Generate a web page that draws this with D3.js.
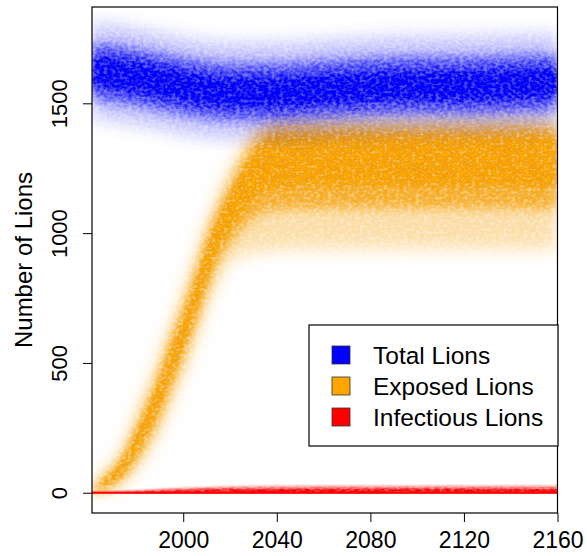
<!DOCTYPE html>
<html>
<head>
<meta charset="utf-8">
<style>
  body { margin: 0; background: #fff; }
  text { font-family: Arial, "Liberation Sans", sans-serif; fill: #000; }
</style>
<script src="https://d3js.org/d3.v7.min.js"></script>
</head>
<body>
<script>
// ---- data (quantile bands of the simulation runs) ----
var totalYears = [1961, 1980, 2000, 2020, 2040, 2060, 2080, 2100, 2120, 2140, 2160];
var totalQ01 = [1445, 1420, 1385, 1365, 1365, 1375, 1385, 1390, 1390, 1395, 1405];
var totalQ10 = [1520, 1495, 1460, 1440, 1440, 1450, 1460, 1465, 1465, 1470, 1480];
var totalQ25 = [1570, 1545, 1510, 1490, 1490, 1500, 1510, 1515, 1515, 1520, 1530];
var totalQ75 = [1680, 1655, 1620, 1595, 1595, 1605, 1615, 1620, 1620, 1625, 1635];
var totalQ90 = [1730, 1705, 1670, 1650, 1650, 1660, 1670, 1675, 1675, 1680, 1685];
var totalQ99 = [1810, 1785, 1750, 1730, 1730, 1740, 1750, 1755, 1755, 1760, 1765];

var exposedYears = [1961, 1965, 1970, 1975, 1980, 1985, 1990, 1995, 2000, 2005, 2010, 2015,
                    2020, 2025, 2030, 2035, 2040, 2060, 2080, 2100, 2120, 2140, 2160];
var exposedQ01 = [0, 5, 15, 45, 95, 160, 240, 350, 460, 585, 715, 825, 890, 915, 925, 930, 935, 940, 940, 940, 940, 940, 940];
var exposedQ10 = [0, 12, 30, 65, 125, 200, 290, 405, 515, 640, 775, 890, 960, 1015, 1055, 1080, 1090, 1095, 1095, 1095, 1095, 1095, 1090];
var exposedQ25 = [0, 20, 42, 85, 155, 240, 335, 455, 565, 690, 825, 945, 1025, 1090, 1140, 1170, 1180, 1185, 1185, 1185, 1185, 1185, 1180];
var exposedQ75 = [2, 40, 78, 135, 225, 320, 425, 555, 665, 795, 935, 1055, 1145, 1230, 1300, 1345, 1370, 1375, 1375, 1375, 1375, 1375, 1370];
var exposedQ90 = [4, 50, 92, 155, 255, 360, 470, 600, 715, 845, 985, 1100, 1190, 1280, 1350, 1390, 1410, 1415, 1415, 1415, 1415, 1415, 1410];
var exposedQ99 = [8, 65, 115, 185, 295, 405, 520, 650, 765, 895, 1030, 1140, 1235, 1325, 1400, 1440, 1455, 1460, 1460, 1460, 1460, 1460, 1455];

var infectYears = [1961, 1980, 2000, 2020, 2040, 2080, 2120, 2160];
var infectQ01 = [0, 0, 0, 0, 0, 0, 0, 0];
var infectQ10 = [0, 0, 0, 0, 0, 0, 0, 0];
var infectQ25 = [0, 0, 0, 1, 1, 1, 1, 1];
var infectQ75 = [1, 3, 7, 10, 11, 11, 11, 11];
var infectQ90 = [2, 5, 11, 15, 16, 16, 16, 16];
var infectQ99 = [4, 9, 19, 25, 27, 28, 28, 28];

var xTicks = [2000, 2040, 2080, 2120, 2160];
var yTicks = [0, 500, 1000, 1500];
var legendNames = ["Total Lions", "Exposed Lions", "Infectious Lions"];
var legendColors = ["#0000FF", "#FFA500", "#FF0000"];

// ---- layout ----
var W = 587, H = 556;
var plot = {left: 92, right: 557.5, top: 7, bottom: 513};

var svg = d3.select("body").append("svg")
    .attr("width", W)
    .attr("height", H);

var x = d3.scaleLinear().domain([1961, 2160]).range([plot.left, plot.right]);
var y = d3.scaleLinear().domain([-78, 1871]).range([plot.bottom, plot.top]);

var defs = svg.append("defs");
defs.append("clipPath").attr("id", "plotclip")
  .append("rect")
    .attr("x", plot.left).attr("y", plot.top)
    .attr("width", plot.right - plot.left).attr("height", plot.bottom - plot.top);

// blur per layer, so the nested bands melt into a smooth density
function blurFilter(id, sd) {
  defs.append("filter").attr("id", id)
      .attr("x", "-10%").attr("y", "-20%").attr("width", "120%").attr("height", "140%")
    .append("feGaussianBlur").attr("stdDeviation", sd);
}
blurFilter("blurOuter", 9);
blurFilter("blurMid", 6);
blurFilter("blurCore", 3.5);
blurFilter("blurThin", 1.2);

// mottled grain of many overlaid semi-transparent runs
function grainFilter(id, freq, seed) {
  var f = defs.append("filter").attr("id", id)
      .attr("x", "-5%").attr("y", "-10%").attr("width", "110%").attr("height", "120%");
  f.append("feTurbulence").attr("type", "fractalNoise").attr("baseFrequency", freq)
    .attr("numOctaves", 2).attr("seed", seed).attr("result", "n");
  f.append("feColorMatrix").attr("in", "n").attr("type", "matrix")
    .attr("values", "0 0 0 2.2 -0.6  0 0 0 2.2 -0.6  0 0 0 2.2 -0.6  0 0 0 2.2 -0.6")
    .attr("result", "g");
  f.append("feComposite").attr("in", "SourceGraphic").attr("in2", "g").attr("operator", "arithmetic")
    .attr("k1", 0.5).attr("k2", 0.72).attr("k3", 0).attr("k4", 0);
}
grainFilter("grainA", "0.25 0.35", 4);
grainFilter("grainB", "0.25 0.35", 9);
grainFilter("grainC", "0.2 0.6", 2);

function band(years, lo, hi) {
  return d3.area()
    .x(function(d, i) { return x(years[i]); })
    .y0(function(d, i) { return y(lo[i]); })
    .y1(function(d, i) { return y(hi[i]); })
    .curve(d3.curveMonotoneX)(years);
}

function drawSeries(g, years, q, color, ops, blurs, grainId) {
  var s = g.append("g").attr("filter", "url(#" + grainId + ")");
  s.append("path").attr("d", band(years, q[0], q[5])).attr("fill", color)
    .attr("fill-opacity", ops[0]).attr("filter", "url(#" + blurs[0] + ")");
  s.append("path").attr("d", band(years, q[1], q[4])).attr("fill", color)
    .attr("fill-opacity", ops[1]).attr("filter", "url(#" + blurs[1] + ")");
  s.append("path").attr("d", band(years, q[2], q[3])).attr("fill", color)
    .attr("fill-opacity", ops[2]).attr("filter", "url(#" + blurs[2] + ")");
}

var clouds = svg.append("g").attr("clip-path", "url(#plotclip)");

drawSeries(clouds, exposedYears,
  [exposedQ01, exposedQ10, exposedQ25, exposedQ75, exposedQ90, exposedQ99],
  "#FFA500", [0.32, 0.68, 0.93], ["blurOuter", "blurMid", "blurCore"], "grainA");
drawSeries(clouds, totalYears,
  [totalQ01, totalQ10, totalQ25, totalQ75, totalQ90, totalQ99],
  "#0000FF", [0.24, 0.64, 0.93], ["blurOuter", "blurMid", "blurCore"], "grainB");
drawSeries(clouds, infectYears,
  [infectQ01, infectQ10, infectQ25, infectQ75, infectQ90, infectQ99],
  "#FF0000", [0.4, 0.8, 0.97], ["blurThin", "blurThin", "blurThin"], "grainC");

clouds.append("path")
    .attr("d", d3.line().x(function(d) { return x(d); }).y(y(0))(infectYears))
    .attr("stroke", "#FF0000").attr("stroke-width", 2).attr("fill", "none");

// ---- axes ----
var xAxis = svg.append("g")
    .attr("transform", "translate(0," + plot.bottom + ")")
    .call(d3.axisBottom(x).tickValues(xTicks).tickSize(9).tickFormat(d3.format("d")));
xAxis.select(".domain").remove();
xAxis.selectAll("line").attr("stroke", "#000");
xAxis.selectAll("text")
    .attr("y", 35).attr("dy", null)
    .attr("font-size", 23)
    .attr("font-family", "Arial, 'Liberation Sans', sans-serif");

var yAxis = svg.append("g")
    .attr("transform", "translate(" + plot.left + ",0)")
    .call(d3.axisLeft(y).tickValues(yTicks).tickSize(9).tickFormat(d3.format("d")));
yAxis.select(".domain").remove();
yAxis.selectAll("line").attr("stroke", "#000");
yAxis.selectAll("text")
    .attr("x", null).attr("dy", null)
    .attr("text-anchor", "middle")
    .attr("transform", "translate(-25,0) rotate(-90)")
    .attr("font-size", 22)
    .attr("font-family", "Arial, 'Liberation Sans', sans-serif");

svg.append("rect")
    .attr("x", plot.left).attr("y", plot.top)
    .attr("width", plot.right - plot.left).attr("height", plot.bottom - plot.top)
    .attr("fill", "none").attr("stroke", "#000").attr("stroke-width", 1.2);

svg.append("text")
    .attr("transform", "translate(32," + ((plot.top + plot.bottom) / 2) + ") rotate(-90)")
    .attr("text-anchor", "middle")
    .attr("font-size", 24)
    .text("Number of Lions");

// ---- legend ----
var legend = svg.append("g");
legend.append("rect")
    .attr("x", 309).attr("y", 325).attr("width", 249).attr("height", 121)
    .attr("fill", "#fff").attr("stroke", "#000").attr("stroke-width", 1.2);

var item = legend.selectAll("g.item")
    .data(legendNames)
    .enter().append("g")
    .attr("class", "item")
    .attr("transform", function(d, i) { return "translate(0," + (355 + i * 31) + ")"; });

item.append("rect")
    .attr("x", 332).attr("y", -9).attr("width", 18).attr("height", 18)
    .attr("fill", function(d, i) { return legendColors[i]; })
    .attr("stroke", "#333").attr("stroke-width", 0.8);

item.append("text")
    .attr("x", 373).attr("dy", "0.36em")
    .attr("font-size", 24.5)
    .text(function(d) { return d; });
</script>
</body>
</html>
